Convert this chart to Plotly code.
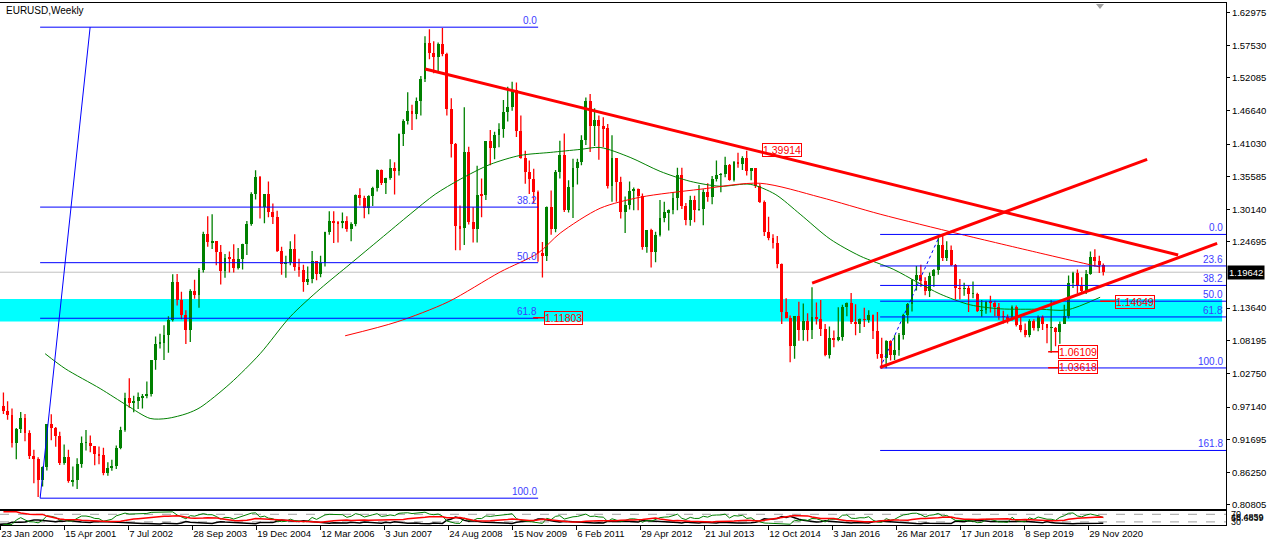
import numpy as np
import pandas as pd
import plotly.graph_objects as go

# ---------------- data (monthly OHLC, EURUSD, read/estimated) ----------------
first_month = "2000-01-01"
open_ = [
    1.0070,0.9718,0.9646,0.9568,0.9110,0.9336,0.9528,0.9276,0.8880,0.8833,0.8493,0.8700,
    0.9420,0.9360,0.9225,0.8775,0.8870,0.8470,0.8490,0.8750,0.9110,0.9110,0.9050,0.8920,
    0.8900,0.8600,0.8680,0.8720,0.9020,0.9330,0.9860,0.9780,0.9800,0.9870,0.9890,0.9930,
    1.0490,1.0765,1.0780,1.0910,1.1160,1.1790,1.1490,1.1250,1.0990,1.1650,1.1580,1.1990,
    1.2590,1.2460,1.2470,1.2300,1.1970,1.2200,1.2180,1.2020,1.2170,1.2420,1.2760,1.3260,
    1.3550,1.3040,1.3260,1.2960,1.2870,1.2310,1.2100,1.2130,1.2340,1.2050,1.1990,1.1790,
    1.1840,1.2150,1.1920,1.2110,1.2620,1.2810,1.2790,1.2770,1.2810,1.2670,1.2760,1.3250,
    1.3190,1.3020,1.3230,1.3360,1.3660,1.3450,1.3530,1.3690,1.3650,1.4270,1.4480,1.4640,
    1.4590,1.4810,1.5180,1.5790,1.5610,1.5550,1.5760,1.5600,1.4680,1.4090,1.2720,1.2690,
    1.3970,1.2800,1.2670,1.3250,1.3240,1.4150,1.4030,1.4250,1.4340,1.4630,1.4720,1.5000,
    1.4320,1.3870,1.3630,1.3510,1.3290,1.2270,1.2230,1.3050,1.2680,1.3630,1.3920,1.2990,
    1.3380,1.3690,1.3800,1.4170,1.4810,1.4400,1.4500,1.4390,1.4360,1.3390,1.3860,1.3460,
    1.2960,1.3080,1.3320,1.3340,1.3230,1.2370,1.2660,1.2300,1.2580,1.2860,1.2960,1.2990,
    1.3190,1.3580,1.3060,1.2820,1.3170,1.3000,1.3010,1.3300,1.3220,1.3520,1.3580,1.3590,
    1.3740,1.3490,1.3800,1.3770,1.3870,1.3640,1.3690,1.3390,1.3130,1.2630,1.2530,1.2450,
    1.2100,1.1290,1.1200,1.0730,1.1220,1.0990,1.1150,1.0990,1.1210,1.1180,1.1000,1.0570,
    1.0860,1.0830,1.0880,1.1380,1.1450,1.1130,1.1100,1.1170,1.1160,1.1240,1.0980,1.0590,
    1.0520,1.0800,1.0580,1.0650,1.0900,1.1240,1.1420,1.1830,1.1910,1.1810,1.1640,1.1900,
    1.2000,1.2410,1.2190,1.2320,1.2080,1.1690,1.1680,1.1690,1.1600,1.1600,1.1310,1.1320,
    1.1460,1.1450,1.1370,1.1220,1.1210,1.1170,1.1370,1.1080,1.0990,1.0900,1.1150,1.1020,
    1.1210,1.1090,1.1030,1.1030,1.0950,1.1100,1.1230,1.1780,1.1940,1.1720,1.1650,1.1930,
    1.2210,1.2140,1.2080,
]
high = [
    1.0414,0.9955,0.9812,0.9690,0.9365,0.9630,0.9597,0.9327,0.9000,0.8875,0.8720,0.9423,
    0.9595,0.9380,0.9300,0.9090,0.9000,0.8720,0.8860,0.9220,0.9330,0.9240,0.9050,0.9055,
    0.9035,0.8790,0.8835,0.9070,0.9385,0.9950,1.0195,0.9900,0.9955,0.9930,1.0140,1.0500,
    1.0890,1.0935,1.1080,1.1230,1.1930,1.1935,1.1640,1.1330,1.1680,1.1840,1.2035,1.2640,
    1.2900,1.2930,1.2470,1.2420,1.2270,1.2310,1.2430,1.2370,1.2440,1.2820,1.3300,1.3667,
    1.3570,1.3250,1.3480,1.3110,1.2990,1.2390,1.2240,1.2480,1.2600,1.2190,1.2090,1.2060,
    1.2320,1.2150,1.2240,1.2640,1.2980,1.2980,1.2820,1.2960,1.2900,1.2800,1.3260,1.3365,
    1.3240,1.3250,1.3390,1.3680,1.3680,1.3540,1.3850,1.3800,1.4280,1.4520,1.4967,1.4760,
    1.4880,1.5240,1.5905,1.6019,1.5820,1.5800,1.6040,1.5630,1.4870,1.4120,1.3080,1.4720,
    1.4060,1.3050,1.3740,1.3530,1.4150,1.4340,1.4310,1.4450,1.4840,1.5060,1.5144,1.5130,
    1.4580,1.3990,1.3830,1.3690,1.3330,1.2470,1.3060,1.3330,1.3670,1.4160,1.4282,1.3500,
    1.3860,1.3860,1.4250,1.4880,1.4940,1.4700,1.4580,1.4550,1.4440,1.4250,1.3870,1.3560,
    1.3230,1.3480,1.3380,1.3360,1.3280,1.2670,1.2690,1.2640,1.3170,1.3140,1.3010,1.3300,
    1.3710,1.3710,1.3120,1.3240,1.3240,1.3420,1.3350,1.3450,1.3570,1.3830,1.3620,1.3890,
    1.3770,1.3820,1.3960,1.3900,1.3993,1.3690,1.3700,1.3440,1.3160,1.2890,1.2600,1.2570,
    1.2110,1.1530,1.1240,1.1230,1.1470,1.1440,1.1280,1.1714,1.1460,1.1500,1.1100,1.1060,
    1.0990,1.1380,1.1420,1.1460,1.1616,1.1430,1.1190,1.1370,1.1330,1.1260,1.1300,1.0870,
    1.0830,1.0830,1.0910,1.0950,1.1270,1.1450,1.1850,1.2070,1.2090,1.1880,1.1960,1.2020,
    1.2540,1.2580,1.2480,1.2410,1.2100,1.1850,1.1790,1.1740,1.1810,1.1620,1.1500,1.1490,
    1.1570,1.1490,1.1450,1.1320,1.1260,1.1410,1.1410,1.1250,1.1110,1.1180,1.1180,1.1240,
    1.1240,1.1100,1.1495,1.1050,1.1140,1.1420,1.1910,1.1970,1.2010,1.1880,1.2000,1.2310,
    1.2349,1.2240,1.2110,
]
low = [
    0.9701,0.9597,0.9500,0.9037,0.8843,0.9282,0.9143,0.8844,0.8440,0.8210,0.8385,0.8655,
    0.9160,0.9050,0.8745,0.8750,0.8450,0.8385,0.8344,0.8700,0.8990,0.8960,0.8740,0.8760,
    0.8575,0.8565,0.8650,0.8680,0.9010,0.9300,0.9700,0.9625,0.9680,0.9690,0.9860,0.9890,
    1.0335,1.0690,1.0500,1.0620,1.1140,1.1410,1.1180,1.0765,1.0800,1.1520,1.1370,1.1960,
    1.2390,1.2350,1.2080,1.1760,1.1870,1.1960,1.1960,1.2010,1.2010,1.2250,1.2740,1.3180,
    1.2860,1.2780,1.2880,1.2770,1.2300,1.1920,1.1870,1.2080,1.1990,1.1890,1.1640,1.1750,
    1.1780,1.1830,1.1880,1.2060,1.2590,1.2450,1.2460,1.2700,1.2640,1.2480,1.2730,1.3080,
    1.2865,1.2930,1.3070,1.3310,1.3420,1.3270,1.3510,1.3260,1.3580,1.4070,1.4430,1.4340,
    1.4520,1.4580,1.5140,1.5520,1.5285,1.5310,1.5570,1.4580,1.3880,1.2330,1.2330,1.2420,
    1.2760,1.2460,1.2460,1.2880,1.3170,1.3750,1.3850,1.4050,1.4210,1.4480,1.4660,1.4220,
    1.3860,1.3440,1.3270,1.3120,1.2140,1.1876,1.2150,1.2590,1.2630,1.3530,1.2970,1.2960,
    1.2870,1.3430,1.3750,1.4090,1.3970,1.4070,1.3840,1.4050,1.3360,1.3140,1.3140,1.2860,
    1.2620,1.3010,1.3000,1.3000,1.2340,1.2290,1.2042,1.2130,1.2560,1.2800,1.2660,1.2930,
    1.3000,1.3020,1.2750,1.2740,1.2800,1.2990,1.2750,1.3140,1.3100,1.3480,1.3300,1.3550,
    1.3490,1.3480,1.3710,1.3670,1.3580,1.3500,1.3370,1.3120,1.2570,1.2500,1.2360,1.2030,
    1.1100,1.1190,1.0462,1.0520,1.0820,1.0820,1.0810,1.0850,1.1090,1.0900,1.0560,1.0524,
    1.0710,1.0810,1.0820,1.1230,1.1100,1.0910,1.0950,1.1050,1.1120,1.0850,1.0520,1.0352,
    1.0362,1.0490,1.0500,1.0570,1.0840,1.1110,1.1310,1.1660,1.1720,1.1580,1.1550,1.1720,
    1.1920,1.2150,1.2150,1.2070,1.1510,1.1510,1.1570,1.1300,1.1530,1.1300,1.1220,1.1270,
    1.1290,1.1230,1.1170,1.1110,1.1110,1.1160,1.1060,1.0960,1.0880,1.0880,1.0990,1.0980,
    1.1000,1.0777,1.0620,1.0730,1.0770,1.1100,1.1190,1.1700,1.1610,1.1620,1.1600,1.1920,
    1.2060,1.1950,1.1910,
]
close = [
    0.9718,0.9646,0.9568,0.9110,0.9336,0.9528,0.9276,0.8880,0.8833,0.8493,0.8700,0.9420,
    0.9360,0.9225,0.8775,0.8870,0.8470,0.8490,0.8750,0.9110,0.9110,0.9050,0.8920,0.8900,
    0.8600,0.8680,0.8720,0.9020,0.9330,0.9860,0.9780,0.9800,0.9870,0.9890,0.9930,1.0490,
    1.0765,1.0780,1.0910,1.1160,1.1790,1.1490,1.1250,1.0990,1.1650,1.1580,1.1990,1.2590,
    1.2460,1.2470,1.2300,1.1970,1.2200,1.2180,1.2020,1.2170,1.2420,1.2760,1.3260,1.3550,
    1.3040,1.3260,1.2960,1.2870,1.2310,1.2100,1.2130,1.2340,1.2050,1.1990,1.1790,1.1840,
    1.2150,1.1920,1.2110,1.2620,1.2810,1.2790,1.2770,1.2810,1.2670,1.2760,1.3250,1.3190,
    1.3020,1.3230,1.3360,1.3660,1.3450,1.3530,1.3690,1.3650,1.4270,1.4480,1.4640,1.4590,
    1.4810,1.5180,1.5790,1.5610,1.5550,1.5760,1.5600,1.4680,1.4090,1.2720,1.2690,1.3970,
    1.2800,1.2670,1.3250,1.3240,1.4150,1.4030,1.4250,1.4340,1.4630,1.4720,1.5000,1.4320,
    1.3870,1.3630,1.3510,1.3290,1.2270,1.2230,1.3050,1.2680,1.3630,1.3920,1.2990,1.3380,
    1.3690,1.3800,1.4170,1.4810,1.4400,1.4500,1.4390,1.4360,1.3390,1.3860,1.3460,1.2960,
    1.3080,1.3320,1.3340,1.3230,1.2370,1.2660,1.2300,1.2580,1.2860,1.2960,1.2990,1.3190,
    1.3580,1.3060,1.2820,1.3170,1.3000,1.3010,1.3300,1.3220,1.3520,1.3580,1.3590,1.3740,
    1.3490,1.3800,1.3770,1.3870,1.3640,1.3690,1.3390,1.3130,1.2630,1.2530,1.2450,1.2100,
    1.1290,1.1200,1.0730,1.1220,1.0990,1.1150,1.0990,1.1210,1.1180,1.1000,1.0570,1.0860,
    1.0830,1.0880,1.1380,1.1450,1.1130,1.1100,1.1170,1.1160,1.1240,1.0980,1.0590,1.0520,
    1.0800,1.0580,1.0650,1.0900,1.1240,1.1420,1.1830,1.1910,1.1810,1.1640,1.1900,1.2000,
    1.2410,1.2190,1.2320,1.2080,1.1690,1.1680,1.1690,1.1600,1.1600,1.1310,1.1320,1.1460,
    1.1450,1.1370,1.1220,1.1210,1.1170,1.1370,1.1080,1.0990,1.0900,1.1150,1.1020,1.1210,
    1.1090,1.1030,1.1030,1.0950,1.1100,1.1230,1.1780,1.1940,1.1720,1.1650,1.1930,1.2210,
    1.2140,1.2080,1.19642,
]

# moving averages
green_ma_dates = ["2000-12-03","2001-04-22","2001-12-23","2002-06-30","2002-12-08","2003-04-06",
                  "2003-08-24","2003-11-23","2004-06-20","2005-01-16","2005-08-14","2006-03-12",
                  "2006-10-08","2007-05-06","2007-12-02","2008-05-25","2008-11-16","2009-06-14",
                  "2010-01-10","2010-08-08","2011-03-06","2011-07-24","2012-02-19","2012-09-16",
                  "2013-04-14","2013-11-10","2014-06-08","2014-11-30","2015-05-24","2015-12-20",
                  "2016-07-17","2017-03-05","2017-08-20","2018-01-28","2018-08-26","2019-03-24",
                  "2019-12-29","2020-07-05","2021-02-21"]
green_ma_values = [1.0604,1.0355,1.0022,0.9740,0.9523,0.9523,0.9606,0.9706,1.0106,1.0604,1.1220,1.1686,
                   1.2101,1.2517,1.2933,1.3265,1.3515,1.3764,1.3914,1.3964,1.4014,1.4047,1.3881,1.3648,
                   1.3482,1.3399,1.3432,1.3266,1.2933,1.2517,1.2234,1.2015,1.1800,1.1600,1.1420,1.1353,
                   1.1346,1.1335,1.1546]
red_ma_dates = ["2006-09-03","2007-09-02","2008-08-24","2009-08-23","2010-05-16","2010-10-17",
                "2011-07-24","2012-04-29","2013-06-23","2014-08-17","2015-10-11",
                "2016-12-04","2018-06-17","2019-12-29","2020-11-22","2021-02-21"]
red_ma_values = [1.0903,1.1136,1.1469,1.1968,1.2284,1.2616,
                 1.3032,1.3216,1.3349,1.3449,1.3216,
                 1.2933,1.2600,1.2283,1.2100,1.2050]

# axis labels
x_tick_labels = ["23 Jan 2000","15 Apr 2001","7 Jul 2002","28 Sep 2003","19 Dec 2004","12 Mar 2006",
                 "3 Jun 2007","24 Aug 2008","15 Nov 2009","6 Feb 2011","29 Apr 2012","21 Jul 2013",
                 "12 Oct 2014","3 Jan 2016","26 Mar 2017","17 Jun 2018","8 Sep 2019","29 Nov 2020"]
y_tick_values = [1.62975,1.57530,1.52085,1.46640,1.41030,1.35585,1.30140,1.24695,
                 1.13640,1.08195,1.02750,0.97140,0.91695,0.86250,0.80805]
current_price = 1.19642

# drawing objects (time, price)
fib1_anchor_dates = ["2000-10-29","2001-10-14"]
fib1_anchor_prices = [0.8192, 1.6055]
fib1_end_date = "2010-05-16"
fib1_levels = [0.0, 38.2, 50.0, 61.8, 100.0]

fib2_anchor_dates = ["2016-12-04","2018-01-28"]
fib2_anchor_prices = [1.0366, 1.2595]
fib2_levels = [0.0, 23.6, 38.2, 50.0, 61.8, 100.0, 161.8]

trend_desc_dates = ["2008-03-16","2022-08-21"]
trend_desc_prices = [1.5356, 1.2252]
trend_low_dates = ["2016-12-04","2023-05-21"]
trend_low_prices = [1.0375, 1.2445]
trend_up_dates = ["2015-08-16","2022-01-16"]
trend_up_prices = [1.1782, 1.3847]

zone_end_date = "2023-06-25"
zone_prices = [1.1141, 1.1519]

price_label_texts = ["1.39914","1.11803","1.14649","1.06109","1.03618"]
price_label_dates = ["2014-08-31","2010-06-27","2021-06-06","2020-05-03","2020-05-03"]
price_label_prices = [1.3997, 1.1204, 1.1466, 1.0629, 1.0379]
price_tail_dates = [None, "2010-04-11", "2021-02-21", "2020-02-23", "2020-02-23"]
price_tail_prices = [None, 1.1204, 1.1480, 1.0636, 1.0371]

# ---------------- figure ----------------
W, H = 1271, 547
FONT = "Liberation Sans"
GREEN, RED, BLUE, FIBTXT = "#008000", "#ff0000", "#0000ff", "#3c3cff"

x_start = pd.Timestamp("2000-01-22")
x_end = x_start + pd.Timedelta(weeks=1226)
plot_right = 1226 / W

dates = pd.date_range(first_month, periods=len(close), freq="MS") + pd.Timedelta(days=14)

fig = go.Figure()

# candle wicks
wx = {True: [], False: []}
wy = {True: [], False: []}
for d, o, h, l, c in zip(dates, open_, high, low, close):
    up = c >= o
    wx[up] += [d, d, None]
    wy[up] += [l, h, None]
for up, col in ((True, GREEN), (False, RED)):
    fig.add_trace(go.Scatter(x=wx[up], y=wy[up], mode="lines", line=dict(color=col, width=1.3),
                             hoverinfo="skip", showlegend=False, xaxis="x", yaxis="y"))
# candle bodies
body_base = [min(o, c) for o, c in zip(open_, close)]
body_len = [max(abs(c - o), 0.0008) for o, c in zip(open_, close)]
body_col = [GREEN if c >= o else RED for o, c in zip(open_, close)]
fig.add_trace(go.Bar(x=dates, y=body_len, base=body_base, width=20 * 86400000,
                     marker=dict(color=body_col, line=dict(width=0)), showlegend=False,
                     hoverinfo="skip", xaxis="x", yaxis="y"))

# moving averages
fig.add_trace(go.Scatter(x=pd.to_datetime(green_ma_dates), y=green_ma_values, mode="lines",
                         line=dict(color=GREEN, width=1, shape="spline", smoothing=0.8),
                         showlegend=False, hoverinfo="skip", xaxis="x", yaxis="y"))
fig.add_trace(go.Scatter(x=pd.to_datetime(red_ma_dates), y=red_ma_values, mode="lines",
                         line=dict(color=RED, width=1, shape="spline", smoothing=0.8),
                         showlegend=False, hoverinfo="skip", xaxis="x", yaxis="y"))

# ---------------- indicator (computed from the candles) ----------------
c_arr = np.array(close); h_arr = np.array(high); l_arr = np.array(low)
d = np.diff(c_arr, prepend=c_arr[0])
au = pd.Series(np.where(d > 0, d, 0.0)).ewm(alpha=1/4, adjust=False).mean()
ad = pd.Series(np.where(d < 0, -d, 0.0)).ewm(alpha=1/4, adjust=False).mean()
rsi = 100 - 100 / (1 + au / ad.replace(0, np.nan))
up_m = np.diff(h_arr, prepend=h_arr[0]); dn_m = -np.diff(l_arr, prepend=l_arr[0])
pdm = np.where((up_m > dn_m) & (up_m > 0), up_m, 0.0)
ndm = np.where((dn_m > up_m) & (dn_m > 0), dn_m, 0.0)
prev_c = np.concatenate([[c_arr[0]], c_arr[:-1]])
tr = np.maximum(h_arr - l_arr, np.maximum(abs(h_arr - prev_c), abs(l_arr - prev_c)))
atr = pd.Series(tr).ewm(alpha=1/6, adjust=False).mean()
pdi = 100 * pd.Series(pdm).ewm(alpha=1/6, adjust=False).mean() / atr
ndi = 100 * pd.Series(ndm).ewm(alpha=1/6, adjust=False).mean() / atr
dx = 100 * abs(pdi - ndi) / (pdi + ndi).replace(0, np.nan)
adx = dx.ewm(alpha=1/6, adjust=False).mean()
fig.add_trace(go.Scatter(x=dates, y=ndi, mode="lines", line=dict(color="black", width=1.5),
                         showlegend=False, hoverinfo="skip", xaxis="x2", yaxis="y2"))
fig.add_trace(go.Scatter(x=dates, y=rsi, mode="lines", line=dict(color=GREEN, width=1),
                         showlegend=False, hoverinfo="skip", xaxis="x2", yaxis="y2"))
fig.add_trace(go.Scatter(x=dates, y=adx, mode="lines", line=dict(color=RED, width=1.5),
                         showlegend=False, hoverinfo="skip", xaxis="x2", yaxis="y2"))

shapes = []
annotations = []

# support zone (background)
shapes.append(dict(type="rect", xref="x", yref="y", x0=x_start, x1=zone_end_date,
                   y0=zone_prices[0], y1=zone_prices[1], fillcolor="#00ffff",
                   line=dict(width=0), layer="below"))
# current price line
shapes.append(dict(type="line", xref="x", yref="y", x0=x_start, x1=x_end,
                   y0=current_price, y1=current_price, line=dict(color="#c0c0c0", width=1),
                   layer="below"))

# fibonacci 1
f1_0, f1_100 = fib1_anchor_prices[1], fib1_anchor_prices[0]
for lv in fib1_levels:
    p = f1_0 - (f1_0 - f1_100) * lv / 100
    shapes.append(dict(type="line", xref="x", yref="y", x0=fib1_anchor_dates[0], x1=fib1_end_date,
                       y0=p, y1=p, line=dict(color=BLUE, width=1)))
    annotations.append(dict(xref="x", yref="y", x=fib1_end_date, y=p, text=f"{lv:.1f}",
                            xanchor="right", yanchor="bottom", showarrow=False, borderpad=0,
                            font=dict(family=FONT, size=10, color=FIBTXT)))
shapes.append(dict(type="line", xref="x", yref="y", x0=fib1_anchor_dates[0], x1=fib1_anchor_dates[1],
                   y0=fib1_anchor_prices[0], y1=fib1_anchor_prices[1], line=dict(color=BLUE, width=1)))

# fibonacci 2
f2_0, f2_100 = fib2_anchor_prices[1], fib2_anchor_prices[0]
for lv in fib2_levels:
    p = f2_0 - (f2_0 - f2_100) * lv / 100
    shapes.append(dict(type="line", xref="x", yref="y", x0=fib2_anchor_dates[0], x1=x_end,
                       y0=p, y1=p, line=dict(color=BLUE, width=1)))
    annotations.append(dict(xref="paper", yref="y", x=1224 / W, y=p, text=f"{lv:.1f}",
                            xanchor="right", yanchor="bottom", showarrow=False, borderpad=0,
                            font=dict(family=FONT, size=10, color=FIBTXT)))
shapes.append(dict(type="line", xref="x", yref="y", x0=fib2_anchor_dates[0], x1=fib2_anchor_dates[1],
                   y0=fib2_anchor_prices[0], y1=fib2_anchor_prices[1],
                   line=dict(color=BLUE, width=1, dash="dot")))

# red trend lines
for ds, ps in ((trend_desc_dates, trend_desc_prices), (trend_low_dates, trend_low_prices),
               (trend_up_dates, trend_up_prices)):
    shapes.append(dict(type="line", xref="x", yref="y", x0=ds[0], x1=ds[1], y0=ps[0], y1=ps[1],
                       line=dict(color=RED, width=3)))

# price labels
for t, dte, p, td, tp in zip(price_label_texts, price_label_dates, price_label_prices,
                             price_tail_dates, price_tail_prices):
    if td is not None:
        shapes.append(dict(type="line", xref="x", yref="y", x0=td, x1=dte, y0=tp, y1=tp,
                           line=dict(color=RED, width=1.5)))
    annotations.append(dict(xref="x", yref="y", x=dte, y=p, text=t, xanchor="left", yanchor="middle",
                            showarrow=False, bordercolor=RED, borderwidth=1, borderpad=0,
                            font=dict(family=FONT, size=10.5, color=RED)))

# title
annotations.append(dict(xref="paper", yref="paper", x=4 / W, y=1 - 11 / H, text="EURUSD,Weekly",
                        xanchor="left", yanchor="middle", showarrow=False,
                        font=dict(family=FONT, size=10, color="black")))
# current price box
annotations.append(dict(xref="paper", yref="y", x=1227 / W, y=current_price, text="1.19642",
                        xanchor="left", yanchor="middle", showarrow=False, bgcolor="black",
                        borderpad=1, font=dict(family=FONT, size=9.5, color="white")))
# indicator scale labels (overlapping, as in the source)
for txt, yy in (("70", 80), ("46.4859", 62), ("58.6839", 48), ("30", 20)):
    annotations.append(dict(xref="paper", yref="y2", x=1229 / W, y=yy, text=txt, xanchor="left",
                            yanchor="middle", showarrow=False,
                            font=dict(family=FONT, size=9, color="black")))
# indicator levels
for lv in (20, 80):
    shapes.append(dict(type="line", xref="x2", yref="y2", x0=x_start, x1=x_end, y0=lv, y1=lv,
                       line=dict(color="#a0a0a0", width=1, dash="dash"), layer="below"))
# chart shift marker
tx = 1100 / W
shapes.append(dict(type="path", xref="paper", yref="paper",
                   path=f"M {tx-4/W},{1-4/H} L {tx+4/W},{1-4/H} L {tx},{1-9/H} Z",
                   fillcolor="#a0a0a0", line=dict(width=0)))

tickvals = [pd.Timestamp(s) for s in pd.to_datetime(x_tick_labels, format="%d %b %Y")]

fig.update_layout(
    width=W, height=H, margin=dict(l=0, r=0, t=0, b=0),
    paper_bgcolor="white", plot_bgcolor="white", showlegend=False,
    bargap=0, shapes=shapes, annotations=annotations,
    xaxis=dict(domain=[0, plot_right], range=[x_start, x_end], type="date", anchor="y",
               showgrid=False, zeroline=False, showticklabels=False, ticks="",
               showline=True, mirror=True, linecolor="black", linewidth=1),
    yaxis=dict(domain=[1 - 510.5 / H, 1 - 3.5 / H], range=[0.80174, 1.64505], side="right",
               anchor="x", showgrid=False, zeroline=False, tickmode="array",
               tickvals=y_tick_values, ticktext=[f"{v:.5f}" for v in y_tick_values],
               ticks="outside", ticklen=3, tickcolor="black", showline=True, linecolor="black",
               linewidth=1, tickfont=dict(family=FONT, size=9.5, color="black")),
    xaxis2=dict(domain=[0, plot_right], range=[x_start, x_end], type="date", anchor="y2",
                matches="x", showgrid=False, zeroline=False, tickmode="array",
                tickvals=tickvals, ticktext=x_tick_labels, ticks="outside", ticklen=4,
                tickcolor="black", ticklabelposition="outside right",
                showline=True, mirror=True, linecolor="black", linewidth=1,
                tickfont=dict(family=FONT, size=9.5, color="black")),
    yaxis2=dict(domain=[1 - 527 / H, 1 - 513 / H], range=[-5, 105], side="right", anchor="x2",
                showgrid=False, zeroline=False, showticklabels=False, ticks="",
                showline=True, linecolor="black", linewidth=1),
)

fig.write_html("out.html", config={"displayModeBar": False},
               post_script="document.body.style.margin='0px';")
